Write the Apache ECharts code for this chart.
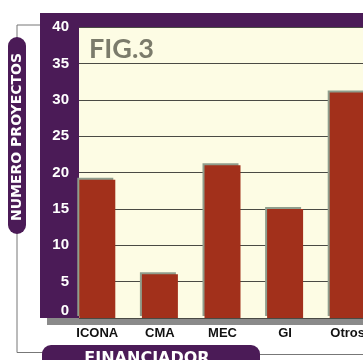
<!DOCTYPE html>
<html>
<head>
<meta charset="utf-8">
<script src="https://cdn.jsdelivr.net/npm/echarts@6/dist/echarts.min.js"></script>
<style>html,body{margin:0;padding:0;background:#fff}#c{width:363px;height:360px}</style>
</head>
<body>
<div id="c"></div>
<script>
const categories = ['ICONA', 'CMA', 'MEC', 'GI', 'Otros'];
const proyectos = [19, 6, 21, 15, 31];
const yTicks = [0, 5, 10, 15, 20, 25, 30, 35, 40];
const yTitle = 'NUMERO PROYECTOS';
const xTitle = 'FINANCIADOR';
const figLabel = 'FIG.3';

const PURPLE = '#4b1b57';
const chart = echarts.init(document.getElementById('c'), null, {renderer: 'canvas'});
chart.setOption({
  animation: false,
  backgroundColor: '#ffffff',
  title: {
    text: figLabel, left: 84, top: 31,
    textStyle: {fontFamily: 'Lato', fontWeight: 'bold', fontSize: 27, color: '#7b7b6b'}
  },
  grid: [
    {left: 79, right: 0, top: 27, bottom: 42, show: true, backgroundColor: '#fdfce4', borderWidth: 0, outerBoundsMode: 'none'},
    {left: 66, width: 313, top: 27, bottom: 42, show: false, outerBoundsMode: 'none', containLabel: false}
  ],
  xAxis: [
    {gridIndex: 0, type: 'category', data: categories, show: false},
    {gridIndex: 1, type: 'category', data: categories,
     axisLine: {show: false}, axisTick: {show: false},
     axisLabel: {margin: 9, color: '#111', fontFamily: 'Liberation Sans', fontWeight: 'bold', fontSize: 13}}
  ],
  yAxis: [
    {gridIndex: 0, type: 'value', min: yTicks[0], max: yTicks[yTicks.length - 1], interval: yTicks[1] - yTicks[0],
     axisLine: {show: false}, axisTick: {show: false},
     axisLabel: {margin: 10, color: '#ffffff', fontFamily: 'Liberation Sans', fontWeight: 'bold', fontSize: 15,
                 verticalAlignMinLabel: 'bottom'},
     splitLine: {show: true, lineStyle: {color: '#4a4a44', width: 1}}},
    {gridIndex: 1, type: 'value', min: yTicks[0], max: yTicks[yTicks.length - 1], show: false, splitLine: {show: false}}
  ],
  series: [{
    type: 'bar', xAxisIndex: 1, yAxisIndex: 1, data: proyectos, barWidth: 36,
    itemStyle: {color: '#a2301b', shadowColor: '#8f9d8c', shadowOffsetX: -2, shadowOffsetY: -2, shadowBlur: 0}
  }],
  graphic: [
    {type: 'rect', z: -10, shape: {x: 47, y: 318, width: 330, height: 7}, style: {fill: '#8a8a8a'}},
    {type: 'rect', z: -9, shape: {x: 40, y: 13, width: 340, height: 305}, style: {fill: PURPLE}},
    {type: 'polyline', shape: {points: [[40, 25], [17, 25], [17, 40]]}, style: {stroke: '#777', lineWidth: 1, fill: null}},
    {type: 'polyline', shape: {points: [[17, 230], [17, 352.5], [44, 352.5]]}, style: {stroke: '#777', lineWidth: 1, fill: null}},
    {type: 'line', shape: {x1: 258, y1: 354.5, x2: 363, y2: 354.5}, style: {stroke: '#777', lineWidth: 1}},
    {type: 'rect', shape: {x: 8, y: 37, width: 18, height: 197, r: 9}, style: {fill: PURPLE}},
    {type: 'text', x: 17.5, y: 137, rotation: Math.PI / 2,
     style: {text: yTitle, fill: '#fff', font: 'bold 14px "DejaVu Sans"', align: 'center', verticalAlign: 'middle'}},
    {type: 'rect', shape: {x: 42, y: 345, width: 218, height: 24, r: 9}, style: {fill: PURPLE}},
    {type: 'text', x: 147, y: 359,
     style: {text: xTitle, fill: '#fff', font: 'bold 16px "DejaVu Sans"', align: 'center', verticalAlign: 'middle'}}
  ]
});
</script>
</body>
</html>
